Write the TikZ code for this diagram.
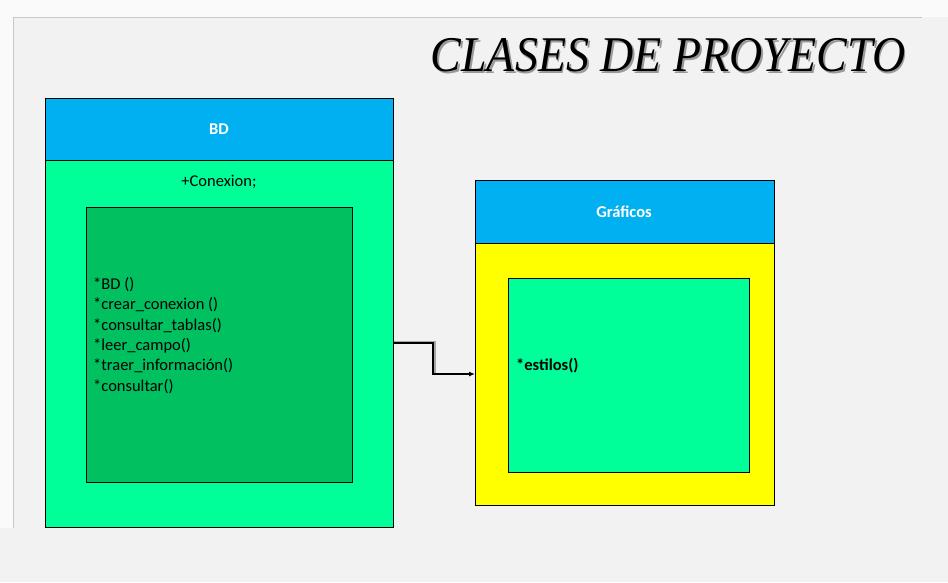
\documentclass[tikz,border=0pt]{standalone}
\usepackage{fontspec}
\setmainfont{Carlito}
\newfontfamily\titlefont{Liberation Serif}
\usetikzlibrary{arrows.meta}
\definecolor{pagegray}{HTML}{F2F2F2}
\definecolor{edgegray}{HTML}{C8C8C8}
\definecolor{headblue}{HTML}{00B0F0}
\definecolor{mint}{HTML}{00FF99}
\definecolor{deepgreen}{HTML}{00C060}
\definecolor{lemon}{HTML}{FFFF00}
\newcommand{\shadowtext}[1]{\makebox[0pt][l]{\hspace{2pt}\raisebox{-2pt}{\color{black!40}#1}}#1}
\tikzset{
  box/.style={draw=black, line width=1pt, inner sep=0pt, outer sep=0pt},
  headtext/.style={text=white, font=\bfseries\fontsize{16.5}{20}\selectfont},
  bodytext/.style={font=\fontsize{16.5}{20.4}\selectfont, align=left, inner sep=0pt},
  link/.style={draw=black, line width=1.8pt, -{Latex[length=6pt,width=5pt]}},
}
\begin{document}
\begin{tikzpicture}[x=1pt,y=-1pt]
  % page frame
  \useasboundingbox (0,0) rectangle (948,582);
  \fill[white!98!black] (0,0) rectangle (948,582);
  \fill[pagegray] (13,17) rectangle (948,582);
  \fill[pagegray] (0,528) rectangle (948,582);
  \draw[edgegray, line width=1pt] (13,528) -- (13,17) -- (922,17);

  % title with soft shadow
  \node[font=\titlefont\itshape\fontsize{50}{56}\selectfont, xscale=0.92, anchor=center] (title) at (668,56) {\shadowtext{CLASES DE PROYECTO}};

  % class BD
  \path[box, fill=headblue] (45,98) rectangle (393,160);
  \path[box, fill=mint] (45,160) rectangle (393,527);
  \coordinate (bdright) at (393,343);
  \node[headtext] (bdname) at (219,129) {BD};
  \node[bodytext] (bdattr) at (219,182) {+Conexion;};
  \path[box, fill=deepgreen] (86,207) rectangle (352,482);
  \node[bodytext, anchor=north west] (bdops) at (93,277) {*BD ()\\*crear\_conexion ()\\*consultar\_tablas()\\*leer\_campo()\\*traer\_información()\\*consultar()};

  % class Graficos
  \path[box, fill=headblue] (475,180) rectangle (774,243);
  \path[box, fill=lemon] (475,243) rectangle (774,505);
  \coordinate (grleft) at (475,374);
  \node[headtext] (grname) at (624,212) {Gráficos};
  \path[box, fill=mint] (508,278) rectangle (749,472);
  \node[bodytext, font=\bfseries\fontsize{16.5}{20.4}\selectfont, anchor=west] (grops) at (516,366) {*estilos()};

  % association
  \draw[black!35, line width=1.8pt] ([xshift=1pt,yshift=1pt]bdright) -| ([xshift=1pt]434,374);
  \draw[link] (bdright) -- (433,343) |- (grleft);
\end{tikzpicture}
\end{document}
